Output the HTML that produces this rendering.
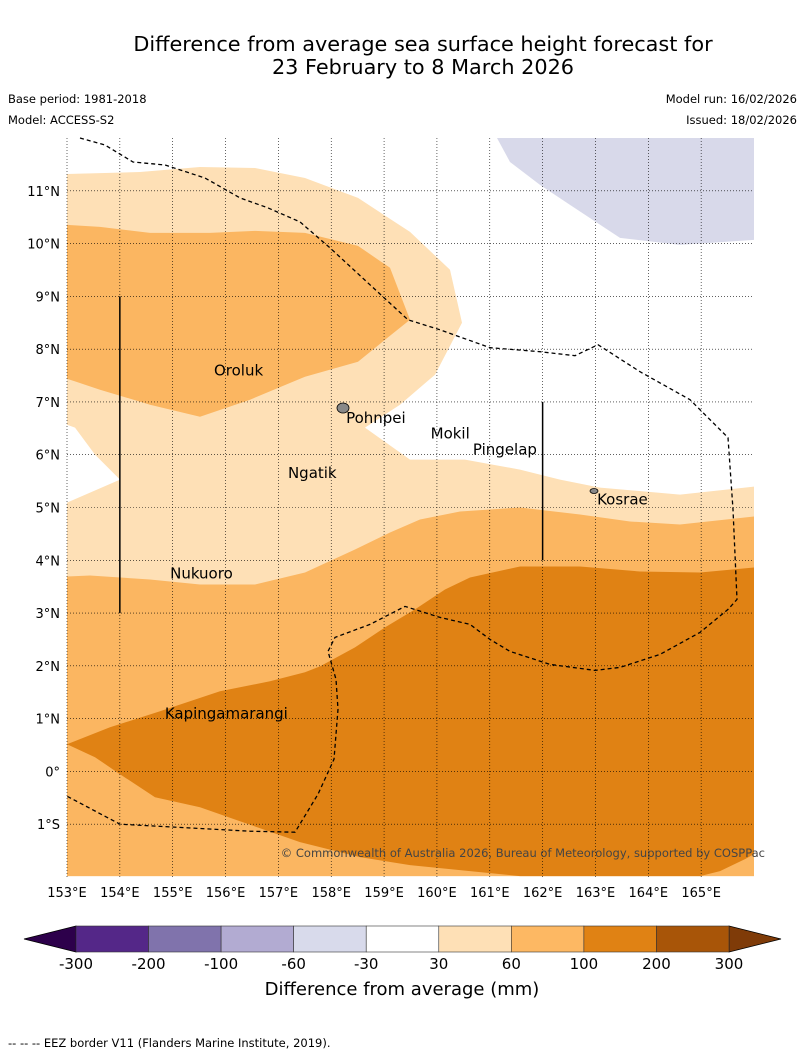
<!DOCTYPE html>
<html><head><meta charset="utf-8"><style>
body{margin:0;background:#fff;font-family:"Liberation Sans","DejaVu Sans",sans-serif;}
svg{display:block}
</style></head><body>
<svg id="s" width="804" height="1058" viewBox="0 0 804 1058" xmlns="http://www.w3.org/2000/svg" font-family="DejaVu Sans, Liberation Sans, sans-serif">
<text x="423" y="51" text-anchor="middle" font-size="20.8">Difference from average sea surface height forecast for</text>
<text x="423" y="74" text-anchor="middle" font-size="20.8">23 February to 8 March 2026</text>
<text x="8" y="103" font-size="11.5">Base period: 1981-2018</text>
<text x="8" y="124" font-size="11.5">Model: ACCESS-S2</text>
<text x="797" y="103" text-anchor="end" font-size="11.5">Model run: 16/02/2026</text>
<text x="797" y="124" text-anchor="end" font-size="11.5">Issued: 18/02/2026</text>
<g id="map"></g>
<g id="cbar"></g>
<text x="402" y="995" text-anchor="middle" font-size="18">Difference from average (mm)</text>
<text x="8" y="1047" font-size="11.5">--  --  -- EEZ border V11 (Flanders Marine Institute, 2019).</text>
</svg>
<script>
const lonTicks=[153,154,155,156,157,158,159,160,161,162,163,164,165];
const latTicks=[11,10,9,8,7,6,5,4,3,2,1,0,-1];
const latLabels=["11°N","10°N","9°N","8°N","7°N","6°N","5°N","4°N","3°N","2°N","1°N","0°","1°S"];
const cbLevels=["-300","-200","-100","-60","-30","30","60","100","200","300"];
const cbColors=["#542788","#8073ac","#b2abd2","#d8daeb","#ffffff","#fee0b6","#fdb863","#e08214","#a85508"];
const P=(a)=>a.map(p=>[153+(p[0]-67)/52.85,12-(p[1]-138)/52.85]);
const lightBand=P([[67,174],[140,172],[200,167],[255,168],[305,178],[358,198],[410,232],[450,270],[462,323],[435,375],[400,405],[365,428],[410,460],[465,460],[520,470],[560,480],[600,488],[680,495],[754,487],[754,877],[67,877],[67,503],[120,480],[95,455],[75,428],[67,425]]);
const midTop=P([[67,225],[100,227],[150,233],[210,233],[255,231],[305,233],[358,246],[390,268],[410,320],[385,340],[358,362],[305,377],[250,400],[200,417],[150,405],[100,390],[67,379]]);
const midLow=P([[67,577],[90,576],[150,580],[200,585],[255,585],[305,573],[355,550],[390,533],[420,520],[460,512],[520,508],[580,515],[630,522],[680,525],[754,517],[754,877],[67,877]]);
const strong=P([[754,568],[700,573],[640,572],[580,567],[520,567],[470,578],[445,590],[415,610],[385,628],[355,648],[320,667],[305,673],[270,682],[220,692],[160,712],[110,728],[67,745],[95,758],[120,775],[155,798],[200,808],[240,822],[300,843],[360,858],[410,866],[480,873],[520,877],[700,877],[720,872],[745,860],[754,855]]);
const negRegion=P([[497,138],[510,162],[540,185],[570,205],[620,238],[680,245],[754,240],[754,138]]);
const eez=P([[80,138],[105,145],[133,162],[165,165],[205,178],[240,198],[268,208],[300,222],[330,248],[370,285],[408,320],[440,330],[490,348],[540,352],[575,356],[598,345],[640,372],[690,400],[728,438],[733,510],[737,600],[728,610],[700,633],[660,655],[620,668],[595,671],[550,665],[510,652],[490,640],[470,625],[440,618],[405,607],[370,625],[335,638],[328,652],[336,680],[338,710],[334,760],[318,795],[295,833],[250,832],[120,825],[67,797]]);
const vLines=[[154,9,3],[162,7,4]];
const places=[["Oroluk",155.8,7.6],["Pohnpei",158.3,6.7],["Mokil",159.9,6.4],["Pingelap",160.7,6.1],["Ngatik",157.2,5.65],["Kosrae",163.05,5.15],["Nukuoro",154.97,3.75],["Kapingamarangi",154.87,1.1]];
const lon0=153,lon1=166,lat0=-2,lat1=12,X0=67,X1=754,Y0=138,Y1=877;
const xs=l=>X0+(l-lon0)/(lon1-lon0)*(X1-X0);
const ys=l=>Y0+(lat1-l)/(lat1-lat0)*(Y1-Y0);
const NS="http://www.w3.org/2000/svg";
const map=document.getElementById('map');
function mk(t,a,parent){const e=document.createElementNS(NS,t);for(const k in a)e.setAttribute(k,a[k]);(parent||map).appendChild(e);return e;}
const pts=a=>a.map(p=>xs(p[0]).toFixed(1)+','+ys(p[1]).toFixed(1)).join(' ');
let e=mk('rect',{x:X0,y:Y0,width:X1-X0,height:Y1-Y0,fill:'#fff'});


e=mk('polygon',{points:pts(lightBand),fill:'#fee0b6'});


e=mk('polygon',{points:pts(midTop),fill:'#fbb661'});


e=mk('polygon',{points:pts(midLow),fill:'#fbb661'});


e=mk('polygon',{points:pts(strong),fill:'#e08214'});


e=mk('polygon',{points:pts(negRegion),fill:'#d8d9ea'});


lonTicks.forEach(l=>{
 const g=mk('line',{x1:xs(l),x2:xs(l),y1:Y0,y2:Y1,stroke:'#000','stroke-width':0.6,'stroke-dasharray':'1,2'});
 
 
 const t=mk('text',{x:xs(l),y:897,'text-anchor':'middle','font-size':13});
 t.textContent=l+'°E';
 
 
});
latTicks.forEach((l,i)=>{
 const g=mk('line',{x1:X0,x2:X1,y1:ys(l),y2:ys(l),stroke:'#000','stroke-width':0.6,'stroke-dasharray':'1,2'});
 
 
 const t=mk('text',{x:60,y:ys(l)+5,'text-anchor':'end','font-size':13});
 t.textContent=latLabels[i];
 
 
});
e=mk('polyline',{points:pts(eez),fill:'none',stroke:'#000','stroke-width':1.3,'stroke-dasharray':'4,3'});


vLines.forEach(v=>{
 const l=mk('line',{x1:xs(v[0]),x2:xs(v[0]),y1:ys(v[1]),y2:ys(v[2]),stroke:'#000','stroke-width':1.5});
 
 
});
e=mk('ellipse',{cx:343,cy:408,rx:6,ry:5,fill:'#888',stroke:'#000','stroke-width':0.8});


e=mk('ellipse',{cx:594,cy:491,rx:4,ry:2.5,fill:'#888',stroke:'#000','stroke-width':0.8});


places.forEach(p=>{
 const t=mk('text',{x:xs(p[1])-1,y:ys(p[2])+5,'font-size':15});
 t.textContent=p[0];
 
 
});
e=mk('text',{x:765,y:857,'text-anchor':'end','font-size':11.5,fill:'#444'});
e.textContent='© Commonwealth of Australia 2026, Bureau of Meteorology, supported by COSPPac';


const cb=document.getElementById('cbar');
const cx0=76,cx1=729,cy0=926,cy1=952,bw=(cx1-cx0)/cbColors.length;
e=mk('polygon',{points:`${cx0},${cy0} 24,939 ${cx0},${cy1}`,fill:'#2d004b',stroke:'#000','stroke-width':0.8},cb);


e=mk('polygon',{points:`${cx1},${cy0} 781,939 ${cx1},${cy1}`,fill:'#7f3b08',stroke:'#000','stroke-width':0.8},cb);


cbColors.forEach((c,i)=>{
 const r=mk('rect',{x:cx0+i*bw,y:cy0,width:bw,height:cy1-cy0,fill:c,stroke:'#333','stroke-width':0.6},cb);
 
 
});
cbLevels.forEach((s,i)=>{
 const t=mk('text',{x:cx0+i*bw,y:969,'text-anchor':'middle','font-size':15},cb);
 t.textContent=s;
 
 
});
</script>
</body></html>
